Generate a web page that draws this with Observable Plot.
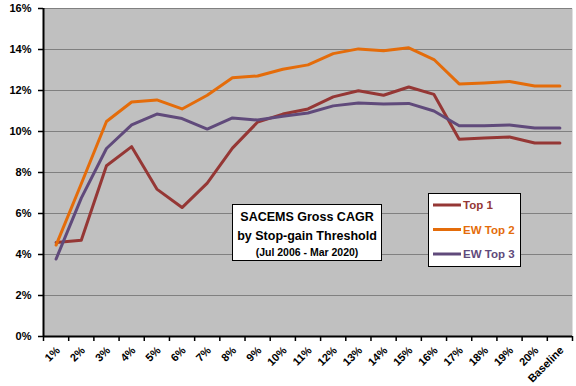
<!DOCTYPE html>
<html>
<head>
<meta charset="utf-8">
<script src="https://cdn.jsdelivr.net/npm/d3@7"></script>
<script src="https://cdn.jsdelivr.net/npm/@observablehq/plot@0.6"></script>
<style>
html, body { margin: 0; padding: 0; background: #fff; }
#chart { width: 576px; height: 386px; }
svg { font-family: "Liberation Sans", Arial, sans-serif; }
</style>
</head>
<body>
<div id="chart"></div>
<script>
const categories = ["1%","2%","3%","4%","5%","6%","7%","8%","9%","10%","11%","12%","13%","14%","15%","16%","17%","18%","19%","20%","Baseline"];
const top1   = [4.58,4.70,8.33,9.26,7.19,6.29,7.48,9.19,10.46,10.85,11.10,11.69,11.99,11.77,12.17,11.81,9.62,9.68,9.73,9.44,9.44];
const ewTop2 = [4.46,7.45,10.49,11.44,11.54,11.10,11.77,12.62,12.71,13.04,13.25,13.80,14.03,13.94,14.08,13.51,12.32,12.37,12.44,12.22,12.22];
const ewTop3 = [3.78,6.75,9.17,10.32,10.85,10.63,10.12,10.66,10.56,10.74,10.90,11.25,11.39,11.34,11.37,11.00,10.28,10.28,10.32,10.17,10.17];
const seriesNames = ["Top 1","EW Top 2","EW Top 3"];
const seriesColors = ["#953735","#E46C0A","#604A7B"];
const yTicks = [0,2,4,6,8,10,12,14,16];
const titleLines = ["SACEMS Gross CAGR","by Stop-gain Threshold","(Jul 2006 - Mar 2020)"];

const seriesValues = [top1, ewTop2, ewTop3];
const data = [];
seriesValues.forEach((vals, s) => vals.forEach((v, i) => data.push({i, cat: categories[i], value: v, series: seriesNames[s]})));
const idx = categories.map((c, i) => i);
const betweenTicks = categories.map((c, i) => i - 0.5).concat([categories.length - 0.5]);

const plot = Plot.plot({
  width: 576,
  height: 386,
  marginLeft: 43,
  marginRight: 4,
  marginTop: 8,
  marginBottom: 50,
  style: {fontFamily: "'Liberation Sans', Arial, sans-serif", fontSize: "11px", fontWeight: "bold", color: "#000", background: "#fff"},
  x: {type: "linear", domain: [-0.5, categories.length - 0.5]},
  y: {domain: [0, 16]},
  color: {domain: seriesNames, range: seriesColors},
  marks: [
    Plot.frame({fill: "#C0C0C0", stroke: null}),
    Plot.ruleY(yTicks.filter(d => d > 0), {stroke: "#808080", strokeWidth: 1}),
    Plot.axisY({ticks: yTicks, tickFormat: d => d + "%", tickSize: 5, tickPadding: 7, stroke: "#000", strokeWidth: 1.5, label: null, fontSize: 11, fontWeight: "bold"}),
    Plot.axisX({ticks: betweenTicks, tickFormat: () => "", tickSize: 5, stroke: "#000", strokeWidth: 1.5, label: null}),
    Plot.axisX({ticks: idx, tickFormat: i => categories[i], tickSize: 0, tickPadding: 12, tickRotate: -45, label: null, fontSize: 11, fontWeight: "bold", dx: 2}),
    Plot.line(data, {x: "i", y: "value", z: "series", stroke: "series", strokeWidth: 3, strokeLinejoin: "round"}),
    Plot.ruleX([-0.5], {stroke: "#000", strokeWidth: 2}),
    Plot.ruleY([0], {stroke: "#000", strokeWidth: 2})
  ]
});
document.getElementById("chart").appendChild(plot);

// Title box and legend overlay
const svg = d3.select(plot);
const tg = svg.append("g");
tg.append("rect").attr("x", 232.5).attr("y", 204.5).attr("width", 149).attr("height", 56).attr("fill", "#fff").attr("stroke", "#000").attr("stroke-width", 1);
const tSizes = [12.5, 12.5, 10.5];
const tYs = [221, 239.5, 255.5];
titleLines.forEach((t, k) => {
  tg.append("text").attr("x", 307).attr("y", tYs[k]).attr("text-anchor", "middle")
    .attr("font-family", "'Liberation Sans', Arial, sans-serif").attr("font-weight", "bold").attr("font-size", tSizes[k]).attr("fill", "#000").text(t);
});

const lg = svg.append("g");
lg.append("rect").attr("x", 428.5).attr("y", 193.5).attr("width", 92).attr("height", 73).attr("fill", "#fff").attr("stroke", "#000").attr("stroke-width", 1);
const lYs = [205, 229.5, 254];
seriesNames.forEach((n, k) => {
  lg.append("line").attr("x1", 433).attr("x2", 461).attr("y1", lYs[k]).attr("y2", lYs[k]).attr("stroke", seriesColors[k]).attr("stroke-width", 3);
  lg.append("text").attr("x", 463).attr("y", lYs[k] + 4).attr("text-anchor", "start").attr("font-family", "'Liberation Sans', Arial, sans-serif").attr("font-weight", "bold").attr("font-size", 11.5).attr("fill", seriesColors[k]).text(n);
});
</script>
</body>
</html>
